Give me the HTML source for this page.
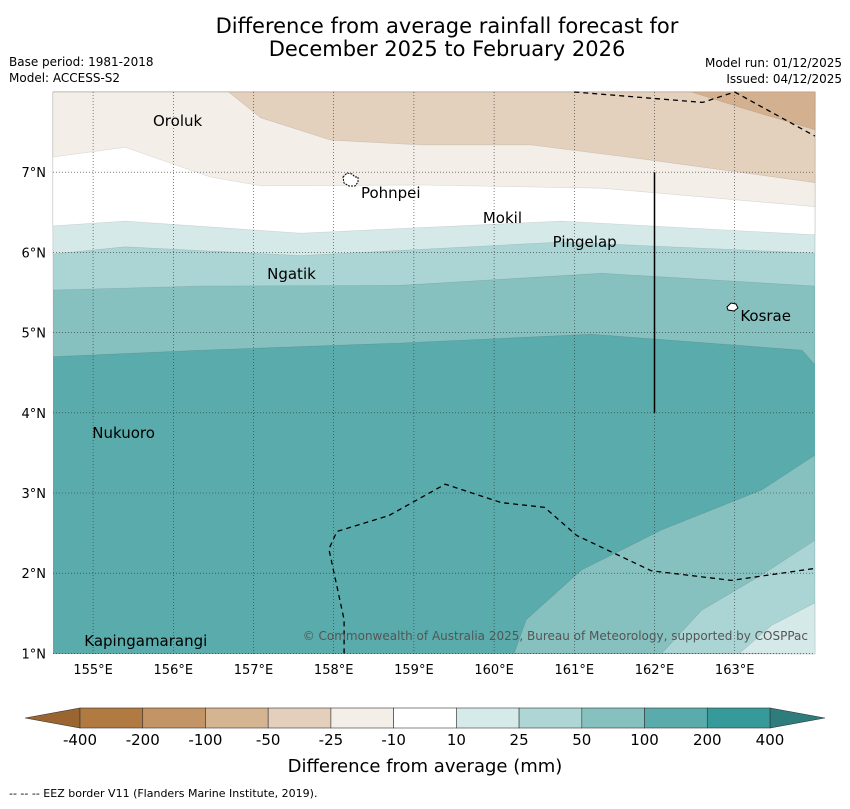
<!DOCTYPE html>
<html><head><meta charset="utf-8"><style>
body{margin:0;background:#fff;font-family:"Liberation Sans","DejaVu Sans",sans-serif;}
svg text{font-family:"DejaVu Sans","Liberation Sans",sans-serif;}
</style></head><body>
<svg id="chart" width="850" height="804" xmlns="http://www.w3.org/2000/svg">
<text x="447" y="33" font-size="21" text-anchor="middle">Difference from average rainfall forecast for</text>
<text x="447" y="56" font-size="21" text-anchor="middle">December 2025 to February 2026</text>
<text x="9" y="66" font-size="12">Base period: 1981-2018</text>
<text x="9" y="82" font-size="12">Model: ACCESS-S2</text>
<text x="842" y="67" font-size="12" text-anchor="end">Model run: 01/12/2025</text>
<text x="842" y="83" font-size="12" text-anchor="end">Issued: 04/12/2025</text>
<g id="map"></g>
<g id="cbar"></g>
<text x="425" y="772" font-size="18" text-anchor="middle">Difference from average (mm)</text>
<text x="9" y="797" font-size="11">--  --  -- EEZ border V11 (Flanders Marine Institute, 2019).</text>
</svg>
<script>
const lonTicks=[155,156,157,158,159,160,161,162,163];
const latTicks=[1,2,3,4,5,6,7];
const cbarLabels=["-400","-200","-100","-50","-25","-10","10","25","50","100","200","400"];
const cbarColors=["#b07a40","#c29466","#d5b491","#e3cfbc","#f3eee8","#ffffff","#d6eae9","#aed6d5","#86c1bf","#5aabab","#359a99"];
const bandNeg100=[[162.46,8],[163.09,7.80],[164,7.53]];
const bandNeg50=[[156.69,8],[157.09,7.68],[157.96,7.40],[159.09,7.34],[160.46,7.34],[161.96,7.15],[164,6.87]];
const bandNeg25=[[154.5,7.19],[155.4,7.31],[156.46,6.94],[157.09,6.83],[159.09,6.84],[161.34,6.80],[164,6.57]];
const bandNeg10=[[154.5,6.33],[155.4,6.39],[157.59,6.24],[160.84,6.39],[164,6.22]];
const band10=[[154.5,5.98],[155.4,6.07],[157.59,5.96],[160.84,6.13],[164,5.99]];
const band25=[[154.5,5.53],[156.34,5.58],[158.84,5.59],[161.34,5.74],[164,5.58]];
const band50=[[154.5,4.70],[156.34,4.78],[158.84,4.87],[161.21,4.98],[163.84,4.78],[164,4.60]];
const low50=[[160.25,1.0],[160.4,1.42],[161.09,2.04],[162.09,2.54],[163.34,3.04],[164,3.47]];
const low25=[[162.09,1],[162.59,1.54],[163.34,1.98],[164,2.41]];
const low10=[[163.06,1],[163.46,1.35],[164,1.63]];
const eezTop1=[[161.0,8],[162.6,7.87],[163.0,8]];
const eezTop2=[[163.0,8],[164,7.45]];
const eezBottom=[[158.13,1],[158.13,1.42],[157.94,2.3],[158.04,2.52],[158.69,2.72],[159.39,3.11],[160.09,2.88],[160.63,2.82],[161.03,2.47],[161.96,2.03],[162.96,1.91],[164,2.06]];
const places=[["Oroluk",155.747,7.64],["Pohnpei",158.34,6.74],["Mokil",159.86,6.43],["Pingelap",160.73,6.13],["Ngatik",157.17,5.73],["Kosrae",163.07,5.21],["Nukuoro",154.99,3.75],["Kapingamarangi",154.89,1.155]];
const X=lon=>53+(lon-154.5)*80.2, Y=lat=>92+(8-lat)*80.2;
const NS="http://www.w3.org/2000/svg";
function mk(tag,attrs,parent){const e=document.createElementNS(NS,tag);for(const k in attrs)e.setAttribute(k,attrs[k]);parent.appendChild(e);return e;}
const map=document.getElementById('map');
const L=53,R=815,T=92,B=654;
const bg=mk('rect',{x:L,y:T,width:R-L,height:B-T,fill:"#5aabab"},map);


function pts(a){return a.map(p=>X(p[0]).toFixed(1)+","+Y(p[1]).toFixed(1)).join(" ");}
function topBand(b,col,name){
  const d=L+","+T+" "+R+","+T+" "+pts(b.slice().reverse())+" "+(b[0][0]<=154.5?"":X(b[0][0])+","+T);
  const p=mk('polygon',{points:d,fill:col,stroke:"rgba(0,0,0,0.12)","stroke-width":0.6},map);
  
  
}
topBand(band50,"#86c1c0","band-50");
topBand(band25,"#aad5d4","band-25");
topBand(band10,"#d5e9e8","band-10");
topBand(bandNeg10,"#ffffff","band-neg10");
topBand(bandNeg25,"#f3eee8","band-neg25");
topBand(bandNeg50,"#e3d0bd","band-neg50");
topBand(bandNeg100,"#d3b08f","band-neg100");
function lowBand(b,col,name){
  const d=pts(b)+" "+R+","+B;
  const p=mk('polygon',{points:d,fill:col,stroke:"rgba(0,0,0,0.12)","stroke-width":0.6},map);
  
  
}
lowBand(low50,"#86c1c0","low-band-50");
lowBand(low25,"#aad5d4","low-band-25");
lowBand(low10,"#d5e9e8","low-band-10");
lonTicks.forEach(v=>{
  const g=mk('line',{x1:X(v),x2:X(v),y1:T,y2:B,stroke:"#333","stroke-width":0.6,"stroke-dasharray":"1,2"},map);
  
  
  const t=mk('text',{x:X(v),y:B+20,"font-size":13,"text-anchor":"middle"},map);t.textContent=v+"°E";
  
  
});
latTicks.forEach(v=>{
  const g=mk('line',{x1:L,x2:R,y1:Y(v),y2:Y(v),stroke:"#333","stroke-width":0.6,"stroke-dasharray":"1,2"},map);
  
  
  const t=mk('text',{x:L-7,y:Y(v)+5,"font-size":13,"text-anchor":"end"},map);t.textContent=v+"°N";
  
  
});
[eezTop1,eezTop2,eezBottom].forEach(a=>{
  const p=mk('polyline',{points:pts(a),fill:"none",stroke:"#000","stroke-width":1.3,"stroke-dasharray":"5,4"},map);
  
  
});
const vl=mk('line',{x1:X(162),x2:X(162),y1:Y(7),y2:Y(4),stroke:"#000","stroke-width":1.5},map);


const pi=mk('path',{d:"M343,177 l4,-4 l5,1 l3,3 l3,0 l0,5 l-3,4 l-6,0 l-5,-3 z",fill:"#fff",stroke:"#000","stroke-width":1,"stroke-dasharray":"2,1"},map);


const ki=mk('path',{d:"M727,307 l4,-4 l5,1 l2,4 l-4,3 l-6,-1 z",fill:"#fff",stroke:"#000","stroke-width":1},map);


places.forEach(p=>{
  const t=mk('text',{x:X(p[1]),y:Y(p[2])+5,"font-size":15},map);t.textContent=p[0];
  
  
});
const c=mk('text',{x:808,y:640,"font-size":12,"text-anchor":"end",fill:"#555"},map);
c.textContent="© Commonwealth of Australia 2025, Bureau of Meteorology, supported by COSPPac";


const cb=document.getElementById('cbar');
const cx0=80,cx1=770,cy=708,ch=20,sw=(cx1-cx0)/cbarColors.length;
const lt=mk('polygon',{points:`${cx0},${cy} ${cx0},${cy+ch} 25,${cy+ch/2}`,fill:"#9a6530",stroke:"#333","stroke-width":0.6},cb);


const rt=mk('polygon',{points:`${cx1},${cy} ${cx1},${cy+ch} 825,${cy+ch/2}`,fill:"#2d7d7d",stroke:"#333","stroke-width":0.6},cb);


cbarColors.forEach((col,i)=>{
  const r=mk('rect',{x:cx0+i*sw,y:cy,width:sw,height:ch,fill:col,stroke:"#333","stroke-width":0.6},cb);
  
  
});
cbarLabels.forEach((l,i)=>{
  const t=mk('text',{x:cx0+i*sw,y:745,"font-size":15,"text-anchor":"middle"},cb);t.textContent=l;
  
  
});
</script>
</body></html>
